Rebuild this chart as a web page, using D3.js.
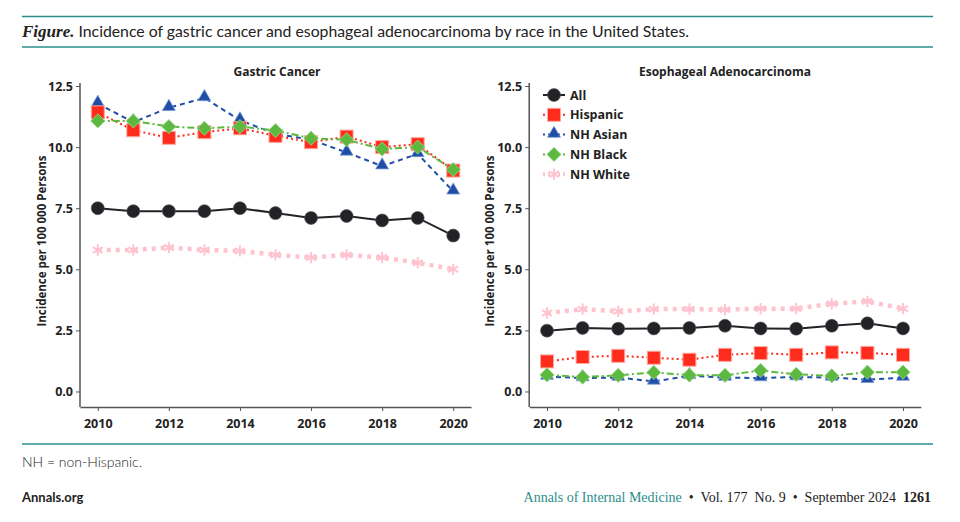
<!DOCTYPE html>
<html>
<head>
<meta charset="utf-8">
<script src="https://cdn.jsdelivr.net/npm/d3@7"></script>
<style>
  body { margin: 0; background: #fff; }
  svg { display: block; }
  text { fill: #222; }
</style>
</head>
<body>
<div id="chart"></div>
<script>
// years on the x axis
let years = [2010, 2011, 2012, 2013, 2014, 2015, 2016, 2017, 2018, 2019, 2020];
let xTicks = [2010, 2012, 2014, 2016, 2018, 2020];
let yTicks = [0, 2.5, 5, 7.5, 10, 12.5];

let seriesNames = ['All', 'Hispanic', 'NH Asian', 'NH Black', 'NH White'];

// gastric cancer, incidence per 100 000
let gastricAll      = [7.50, 7.38, 7.38, 7.38, 7.50, 7.30, 7.10, 7.18, 7.00, 7.10, 6.38];
let gastricHispanic = [11.42, 10.69, 10.38, 10.61, 10.77, 10.46, 10.20, 10.43, 10.00, 10.12, 9.04];
let gastricAsian    = [11.78, 11.02, 11.61, 12.01, 11.10, 10.54, 10.30, 9.78, 9.22, 9.72, 8.19];
let gastricBlack    = [11.07, 11.07, 10.84, 10.77, 10.84, 10.68, 10.36, 10.30, 9.92, 10.00, 9.08];
let gastricWhite    = [5.79, 5.79, 5.89, 5.79, 5.75, 5.59, 5.48, 5.59, 5.48, 5.27, 5.00];

// esophageal adenocarcinoma, incidence per 100 000
let esoAll      = [2.49, 2.60, 2.57, 2.58, 2.60, 2.69, 2.58, 2.57, 2.69, 2.79, 2.58];
let esoHispanic = [1.23, 1.41, 1.46, 1.38, 1.30, 1.50, 1.57, 1.50, 1.60, 1.58, 1.50];
let esoAsian    = [0.61, 0.55, 0.57, 0.41, 0.64, 0.57, 0.55, 0.59, 0.57, 0.48, 0.57];
let esoBlack    = [0.68, 0.59, 0.66, 0.78, 0.67, 0.66, 0.86, 0.70, 0.64, 0.79, 0.79];
let esoWhite    = [3.21, 3.37, 3.28, 3.37, 3.37, 3.35, 3.39, 3.39, 3.59, 3.69, 3.39];

let svg_width = 960;
let svg_height = 522;
let teal = '#2b8e8c';
let font = "'Open Sans', 'Noto Sans', sans-serif";

// look of each race series
let styles = {
    'All':      {color: '#222326', dash: null,       width: 2,   shape: 'circle'},
    'Hispanic': {color: '#ff2b1c', dash: '2,3',      width: 2,   shape: 'square'},
    'NH Asian': {color: '#1f4ea6', dash: '5,4',      width: 2,   shape: 'triangle'},
    'NH Black': {color: '#5cb83e', dash: '7,3,2,3',  width: 2,   shape: 'diamond'},
    'NH White': {color: '#ffc3cf', dash: '4,5',      width: 4.5, shape: 'asterisk'}
};

let svg = d3.select('#chart')
    .append('svg')
    .attr('width', svg_width)
    .attr('height', svg_height);

svg.append('rect').attr('width', svg_width).attr('height', svg_height).attr('fill', '#fff');

// header rules and caption
svg.append('line').attr('x1', 22).attr('x2', 933).attr('y1', 16.5).attr('y2', 16.5)
    .attr('stroke', teal).attr('stroke-width', 1.5);
svg.append('line').attr('x1', 22).attr('x2', 933).attr('y1', 47).attr('y2', 47)
    .attr('stroke', teal).attr('stroke-width', 1.5);
svg.append('line').attr('x1', 22).attr('x2', 933).attr('y1', 444).attr('y2', 444)
    .attr('stroke', teal).attr('stroke-width', 1.5);

let cap = svg.append('text').attr('x', 22).attr('y', 37)
    .attr('font-family', "Lato, 'Open Sans', sans-serif").attr('font-size', 15.8);
cap.append('tspan').text('Figure.')
    .attr('font-weight', 'bold').attr('font-style', 'italic')
    .attr('font-family', "'Liberation Serif', 'DejaVu Serif', serif").attr('font-size', 17);
cap.append('tspan').text(' Incidence of gastric cancer and esophageal adenocarcinoma by race in the United States.');

svg.append('text').attr('x', 22).attr('y', 467)
    .attr('font-family', "Lato, sans-serif").attr('font-weight', 300).attr('font-size', 14)
    .attr('fill', '#333').text('NH = non-Hispanic.');

svg.append('text').attr('x', 22).attr('y', 502)
    .attr('font-family', "Lato, sans-serif").attr('font-weight', 'bold').attr('font-size', 13)
    .text('Annals.org');

let foot = svg.append('text').attr('x', 931).attr('y', 502).attr('text-anchor', 'end')
    .style('white-space', 'pre')
    .attr('font-family', "'Liberation Serif', 'DejaVu Serif', serif").attr('font-size', 14);
foot.append('tspan').text('Annals of Internal Medicine').attr('fill', teal);
foot.append('tspan').text('  \u2022  Vol. 177  No. 9  \u2022  September 2024  ');
foot.append('tspan').text('1261').attr('font-weight', 'bold');

// marker drawing
function drawMarker(g, shape, color) {
    if (shape === 'circle') {
        g.append('circle').attr('r', 6.5).attr('fill', color).attr('stroke', '#555').attr('stroke-width', 0.6);
    } else if (shape === 'square') {
        g.append('rect').attr('x', -6.5).attr('y', -6.5).attr('width', 13).attr('height', 13)
            .attr('fill', color).attr('stroke', '#ffa89e').attr('stroke-width', 1);
    } else if (shape === 'triangle') {
        g.append('path').attr('d', d3.symbol(d3.symbolTriangle, 72)())
            .attr('transform', 'translate(0,-1)')
            .attr('fill', color).attr('stroke', '#7d9ad6').attr('stroke-width', 0.8);
    } else if (shape === 'diamond') {
        g.append('rect').attr('x', -5).attr('y', -5).attr('width', 10).attr('height', 10)
            .attr('transform', 'rotate(45)')
            .attr('fill', color).attr('stroke', '#9ad888').attr('stroke-width', 0.8);
    } else {
        g.append('path').attr('d', d3.symbol(d3.symbolAsterisk, 90)())
            .attr('fill', 'none').attr('stroke', color).attr('stroke-width', 2);
    }
}

function drawPanel(opts) {
    let x = d3.scaleLinear().domain([2009.5, 2020.5]).range([opts.left, opts.right]);
    let y = d3.scaleLinear().domain([-0.635, 12.5]).range([407, 86]);

    let g = svg.append('g');

    // title
    g.append('text')
        .attr('x', opts.titleX).attr('y', 76)
        .attr('text-anchor', 'middle')
        .attr('font-family', font).attr('font-weight', 'bold').attr('font-size', 12)
        .text(opts.title);

    // y axis
    let yAxis = g.append('g')
        .attr('transform', 'translate(' + opts.left + ',0)')
        .call(d3.axisLeft(y).tickValues(yTicks).tickFormat(d3.format('.1f')).tickSize(4).tickSizeOuter(0));
    yAxis.select('.domain').attr('d', 'M0,' + y(12.62) + 'V407').attr('stroke', '#555').attr('stroke-width', 1.5);

    // x axis
    let xAxis = g.append('g')
        .attr('transform', 'translate(0,407)')
        .call(d3.axisBottom(x).tickValues(xTicks).tickFormat(d3.format('d')).tickSize(4).tickSizeOuter(0));
    xAxis.select('.domain').attr('stroke', '#555').attr('stroke-width', 1.5);

    g.selectAll('.tick line').attr('stroke', '#555');
    g.selectAll('.tick text')
        .attr('font-family', font).attr('font-weight', 'bold').attr('font-size', 12.5)
        .attr('fill', '#222');
    xAxis.selectAll('.tick text').attr('dy', '1.1em');

    // axis label
    g.append('text')
        .attr('transform', 'translate(' + opts.labelX + ',241) rotate(-90)')
        .attr('text-anchor', 'middle')
        .attr('font-family', font).attr('font-weight', 'bold').attr('font-size', 11.5)
        .text('Incidence per 100 000 Persons');

    // series, drawn bottom to top
    let order = ['NH White', 'All', 'NH Asian', 'Hispanic', 'NH Black'];
    order.forEach(function (name) {
        let vals = opts.data[name];
        let st = styles[name];
        let line = d3.line().x(function (d, i) { return x(years[i]); }).y(function (d) { return y(d); });
        g.append('path')
            .datum(vals)
            .attr('d', line)
            .attr('fill', 'none')
            .attr('stroke', st.color)
            .attr('stroke-width', st.width)
            .attr('stroke-dasharray', st.dash);
        vals.forEach(function (v, i) {
            let m = g.append('g').attr('transform', 'translate(' + x(years[i]) + ',' + y(v) + ')');
            drawMarker(m, st.shape, st.color);
        });
    });

    // legend
    if (opts.legend) {
        seriesNames.forEach(function (name, i) {
            let st = styles[name];
            let ly = 95 + i * 19.8;
            let lg = g.append('g').attr('transform', 'translate(543,' + ly + ')');
            lg.append('line').attr('x1', 0).attr('x2', 22).attr('y1', 0).attr('y2', 0)
                .attr('stroke', st.color).attr('stroke-width', name === 'NH White' ? 4 : 2)
                .attr('stroke-dasharray', name === 'All' ? null : '2,3');
            let m = lg.append('g').attr('transform', 'translate(11,0)');
            drawMarker(m, st.shape, st.color);
            lg.append('text').attr('x', 27).attr('y', 4.5)
                .attr('font-family', font).attr('font-weight', 'bold').attr('font-size', 12.5)
                .text(name);
        });
    }
}

drawPanel({
    title: 'Gastric Cancer', titleX: 277, left: 80, right: 471, labelX: 46, legend: false,
    data: {'All': gastricAll, 'Hispanic': gastricHispanic, 'NH Asian': gastricAsian,
           'NH Black': gastricBlack, 'NH White': gastricWhite}
});

drawPanel({
    title: 'Esophageal Adenocarcinoma', titleX: 725, left: 529.2, right: 920.8, labelX: 494, legend: true,
    data: {'All': esoAll, 'Hispanic': esoHispanic, 'NH Asian': esoAsian,
           'NH Black': esoBlack, 'NH White': esoWhite}
});
</script>
</body>
</html>
